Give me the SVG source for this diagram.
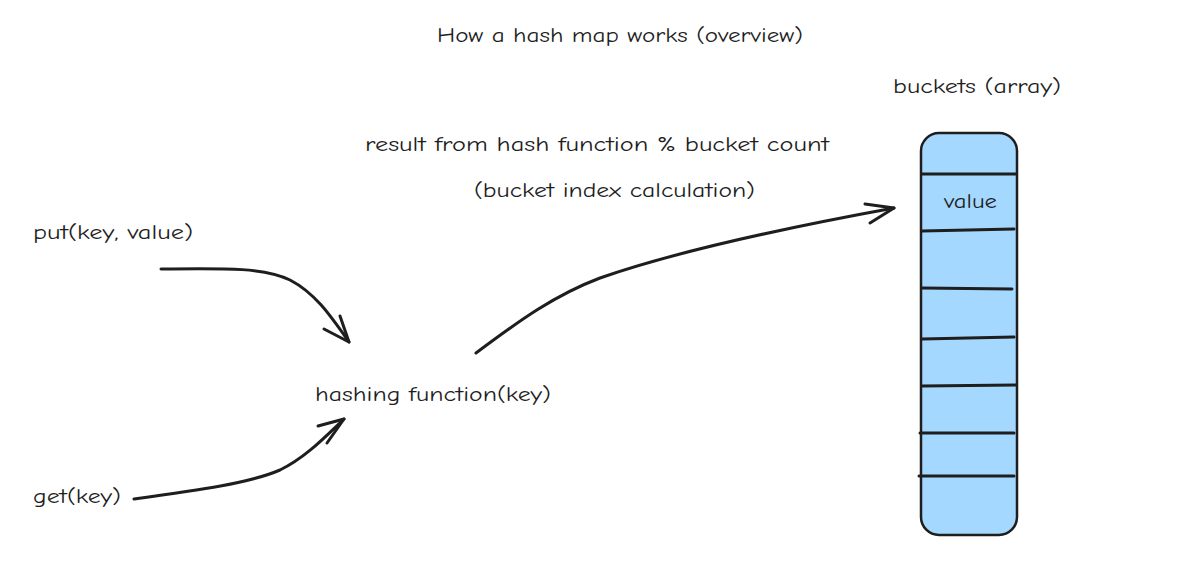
<svg xmlns="http://www.w3.org/2000/svg" width="1200" height="577" viewBox="0 0 1200 577">
<style>
text{font-family:"Comic Neue","Liberation Sans",sans-serif;font-size:20px;fill:#1e1e1e}
.ln{fill:none;stroke:#1e1e1e;stroke-width:3;stroke-linecap:round;stroke-linejoin:round}
.div{stroke:#1e1e1e;stroke-width:3;stroke-linecap:round}
</style>
<rect width="1200" height="577" fill="#ffffff"/>
<g id="title"><text x="437" y="42" textLength="366" lengthAdjust="spacingAndGlyphs">How a hash map works (overview)</text></g>
<g id="buckets-label"><text x="893" y="93" textLength="168" lengthAdjust="spacingAndGlyphs">buckets (array)</text></g>
<g id="calc-label">
<text x="365" y="151" textLength="464" lengthAdjust="spacingAndGlyphs">result from hash function % bucket count</text>
<text x="474" y="197" textLength="281" lengthAdjust="spacingAndGlyphs">(bucket index calculation)</text>
</g>
<g id="put"><text x="33" y="239" textLength="160" lengthAdjust="spacingAndGlyphs">put(key, value)</text></g>
<g id="get"><text x="33" y="503" textLength="88" lengthAdjust="spacingAndGlyphs">get(key)</text></g>
<g id="hash"><text x="315" y="401" textLength="236" lengthAdjust="spacingAndGlyphs">hashing function(key)</text></g>
<g id="bucket-array">
<rect x="921" y="133" width="96" height="402" rx="18" fill="#a5d8ff" stroke="#1e1e1e" stroke-width="2.5"/>
<line class="div" x1="922" y1="174" x2="1016" y2="174"/>
<line class="div" x1="922" y1="231" x2="1014" y2="229"/>
<line class="div" x1="922" y1="288" x2="1012" y2="289"/>
<line class="div" x1="922" y1="339" x2="1014" y2="337"/>
<line class="div" x1="922" y1="386" x2="1016" y2="385"/>
<line class="div" x1="920" y1="433" x2="1014" y2="433"/>
<line class="div" x1="919" y1="476" x2="1014" y2="476"/>
<text x="944" y="208" textLength="53" lengthAdjust="spacingAndGlyphs">value</text>
</g>
<g id="connectors">
<path class="ln" d="M161,269 C230,268 265,268 290,280 C315,293 330,315 349,342"/>
<path class="ln" d="M324,329 L349,342 L340,316"/>
<path class="ln" d="M134,499 C200,490 250,483 280,470 C305,458 325,437 344,419"/>
<path class="ln" d="M318,426 L344,419 L327,443"/>
<path class="ln" d="M476,353 C520,320 555,295 600,278 C680,250 790,227 894,208"/>
<path class="ln" d="M865,204 L894,208 L870,223"/>
</g>
</svg>
